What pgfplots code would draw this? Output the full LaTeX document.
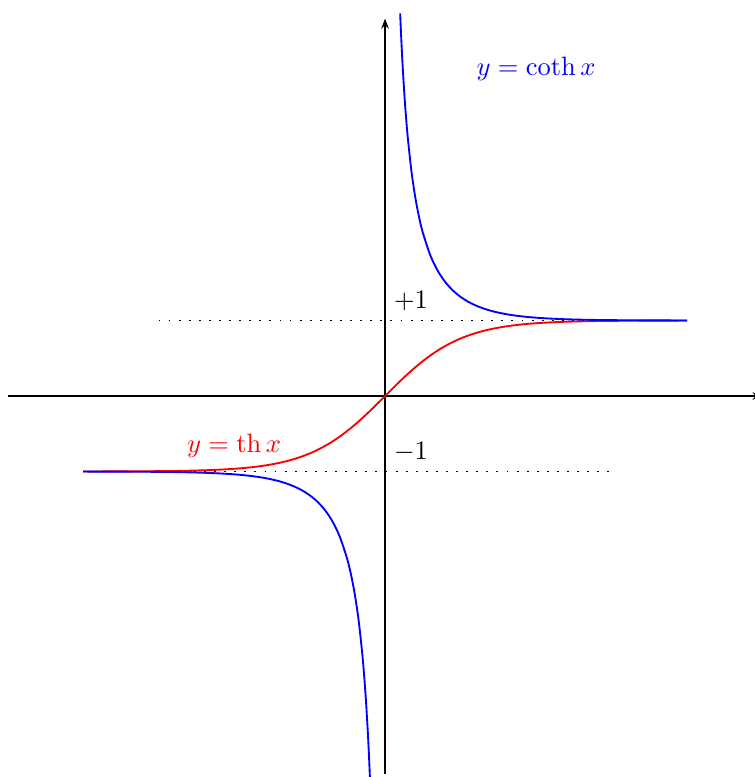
\documentclass[border=0pt]{standalone}
\usepackage{pgfplots}
\pgfplotsset{compat=1.18}
\usetikzlibrary{arrows.meta}
\begin{document}
\begin{tikzpicture}
\begin{axis}[x=1cm,y=1cm,
  hide axis,
  xmin=-5,xmax=5,ymin=-5,ymax=5,
  clip=false]
% asymptotes y = +1 and y = -1
\addplot[black,line width=0.7pt,dash pattern=on 0.7pt off 3.1pt] coordinates {(-3,1) (4,1)};
\addplot[black,line width=0.7pt,dash pattern=on 0.7pt off 3.1pt] coordinates {(-4,-1) (3,-1)};
% axes
\draw[line width=0.75pt,-{Stealth[length=3.8pt,width=2.8pt]}] (axis cs:-5,0) -- (axis cs:5,0);
\draw[line width=0.75pt,-{Stealth[length=3.8pt,width=2.8pt]}] (axis cs:0,-5) -- (axis cs:0,5);
% y = th x
\addplot[red,line width=0.7pt,smooth] coordinates {
(-4.0,-0.999329) (-3.75,-0.998894) (-3.5,-0.998178) (-3.25,-0.996998) (-3.0,-0.995055)
(-2.8,-0.992632) (-2.6,-0.989027) (-2.4,-0.983675) (-2.2,-0.975743) (-2.0,-0.964028)
(-1.9,-0.956237) (-1.8,-0.946806) (-1.7,-0.935409) (-1.6,-0.921669) (-1.5,-0.905148)
(-1.4,-0.885352) (-1.3,-0.861723) (-1.2,-0.833655) (-1.1,-0.800499) (-1.0,-0.761594)
(-0.9,-0.716298) (-0.8,-0.664037) (-0.7,-0.604368) (-0.6,-0.537050) (-0.5,-0.462117)
(-0.4,-0.379949) (-0.3,-0.291313) (-0.2,-0.197375) (-0.1,-0.099668) (0,0)
(0.1,0.099668) (0.2,0.197375) (0.3,0.291313) (0.4,0.379949) (0.5,0.462117)
(0.6,0.537050) (0.7,0.604368) (0.8,0.664037) (0.9,0.716298) (1.0,0.761594)
(1.1,0.800499) (1.2,0.833655) (1.3,0.861723) (1.4,0.885352) (1.5,0.905148)
(1.6,0.921669) (1.7,0.935409) (1.8,0.946806) (1.9,0.956237) (2.0,0.964028)
(2.2,0.975743) (2.4,0.983675) (2.6,0.989027) (2.8,0.992632) (3.0,0.995055)
(3.25,0.996998) (3.5,0.998178) (3.75,0.998894) (4.0,0.999329)};
% y = coth x, x > 0
\addplot[blue,line width=0.7pt,smooth] coordinates {
(0.2,5.06649) (0.21,4.83169) (0.22,4.61855) (0.23,4.42419) (0.25,4.08299)
(0.27,3.79327) (0.3,3.43274) (0.35,2.97287) (0.4,2.63193) (0.45,2.37024)
(0.5,2.16395) (0.6,1.86202) (0.7,1.65462) (0.8,1.50594) (0.9,1.39607)
(1.0,1.31304) (1.1,1.24922) (1.2,1.19954) (1.3,1.16046) (1.4,1.12949)
(1.5,1.10479) (1.6,1.08499) (1.7,1.06905) (1.8,1.05618) (1.9,1.04577)
(2.0,1.03731) (2.2,1.02486) (2.4,1.01660) (2.6,1.01109) (2.8,1.00742)
(3.0,1.00497) (3.25,1.00301) (3.5,1.00183) (3.75,1.00111) (4.0,1.00067)};
% y = coth x, x < 0
\addplot[blue,line width=0.7pt,smooth] coordinates {
(-4.0,-1.00067) (-3.75,-1.00111) (-3.5,-1.00183) (-3.25,-1.00301) (-3.0,-1.00497)
(-2.8,-1.00742) (-2.6,-1.01109) (-2.4,-1.01660) (-2.2,-1.02486) (-2.0,-1.03731)
(-1.9,-1.04577) (-1.8,-1.05618) (-1.7,-1.06905) (-1.6,-1.08499) (-1.5,-1.10479)
(-1.4,-1.12949) (-1.3,-1.16046) (-1.2,-1.19954) (-1.1,-1.24922) (-1.0,-1.31304)
(-0.9,-1.39607) (-0.8,-1.50594) (-0.7,-1.65462) (-0.6,-1.86202) (-0.5,-2.16395)
(-0.45,-2.37024) (-0.4,-2.63193) (-0.35,-2.97287) (-0.3,-3.43274) (-0.27,-3.79327)
(-0.25,-4.08299) (-0.23,-4.42419) (-0.22,-4.61855) (-0.21,-4.83169) (-0.2,-5.06649)};
\node at (axis cs:0.344,1.258) {$+1$};
\node at (axis cs:0.344,-0.742) {$-1$};
\node[blue] at (axis cs:2.0,4.33) {$y=\coth x$};
\node[red] at (axis cs:-2.0,-0.66) {$y=\mathop{\mathrm{th}}\nolimits x$};
\coordinate (bl) at (axis cs:-5.10,-5.046);
\coordinate (tr) at (axis cs:4.887,5.245);
\end{axis}
\pgfresetboundingbox
\useasboundingbox (bl) rectangle (tr);
\end{tikzpicture}
\end{document}
